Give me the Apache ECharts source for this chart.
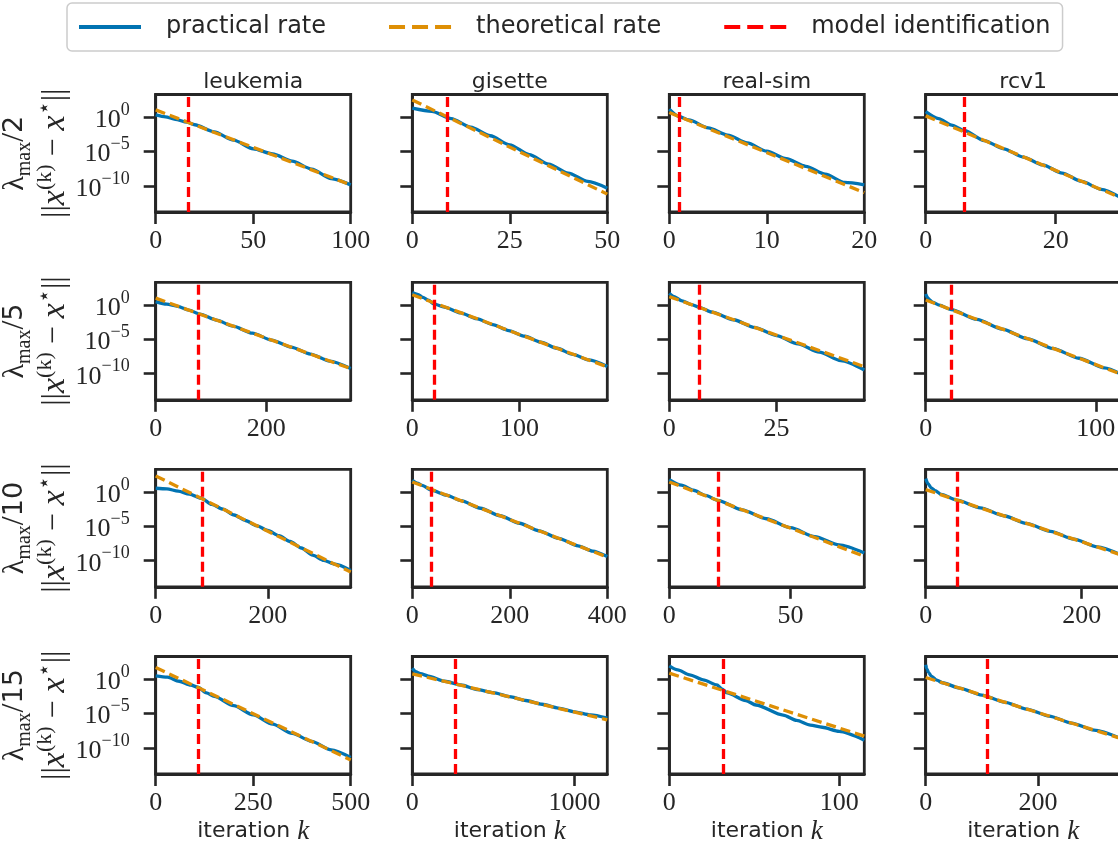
<!DOCTYPE html>
<html><head><meta charset="utf-8">
<script src="https://cdn.jsdelivr.net/npm/echarts@6/dist/echarts.min.js"></script>
<style>html,body{margin:0;padding:0;overflow:hidden;background:#fff}#c{width:1122px;height:847px}</style>
</head><body><div id="c"></div><script>
// ---------------- DATA (y values are log10 of ||x^(k) - x*||) ----------------
const datasets = ['leukemia', 'gisette', 'real-sim', 'rcv1'];
const lambdaDivisors = ['2', '5', '10', '15'];
const yTickExponents = [0, -5, -10];
const yMinExp = -13.8, yMaxExp = 3.3;

// lambda_max / 2
const iters_2 = [100, 50, 20, 30];
const modelId_2 = [16.5, 9, 1, 6];
const xTicks_2 = [[0, 50, 100], [0, 25, 50], [0, 10, 20], [0, 20]];
const prac_leukemia_2 = [[0,0.33],[5,0.05],[10,-0.3],[16,-0.73],[20,-1.1],[30,-2.15],[40,-3.35],[50,-4.6],[60,-5.35],[70,-6.4],[80,-7.55],[90,-8.95],[100,-9.85]];
const theo_leukemia_2 = [[0,1.06],[100,-9.85]];
const prac_gisette_2 = [[0,1.31],[5,0.85],[10,-0.2],[15,-1.45],[20,-2.7],[25,-4.03],[30,-5.45],[35,-6.85],[40,-8.15],[45,-9.35],[50,-10.33]];
const theo_gisette_2 = [[0,2.5],[50,-11.2]];
const prac_realsim_2 = [[0,1.16],[1,0.1],[2,-0.4],[4,-1.55],[6,-2.6],[8,-3.75],[10,-4.95],[12,-6.05],[14,-7.15],[16,-8.3],[18,-9.5],[20,-9.85]];
const theo_realsim_2 = [[0,0.67],[20,-10.98]];
const prac_rcv1_2 = [[0,0.82],[2,-0.2],[4,-1.15],[6,-1.95],[9,-3.4],[12,-4.6],[15,-5.8],[18,-6.95],[21,-8.15],[24,-9.35],[27,-10.5],[30,-11.7]];
const theo_rcv1_2 = [[0,0.19],[30,-11.72]];

// lambda_max / 5
const iters_5 = [353, 182, 45.5, 114.6];
const modelId_5 = [76.6, 20.5, 7, 15];
const xTicks_5 = [[0, 200], [0, 100], [0, 25], [0, 100]];
const prac_leukemia_5 = [[0,0.49],[20,0.12],[40,-0.2],[60,-0.75],[80,-1.33],[110,-2.2],[140,-3.08],[175,-4.1],[210,-5.11],[245,-6.13],[280,-7.14],[315,-8.16],[353,-9.26]];
const theo_leukemia_5 = [[0,0.99],[353,-9.26]];
const prac_gisette_5 = [[0,1.82],[5,1.55],[10,1.1],[15,0.7],[20,0.15],[30,-0.3],[45,-1.15],[60,-2.0],[75,-2.85],[90,-3.72],[105,-4.55],[120,-5.4],[135,-6.3],[150,-7.2],[165,-8.0],[182,-8.95]];
const theo_gisette_5 = [[0,1.48],[182,-9.01]];
const prac_realsim_5 = [[0,1.7],[1,1.25],[3,0.6],[5,0.1],[7,-0.35],[10,-1.05],[15,-2.15],[20,-3.3],[25,-4.45],[30,-5.65],[35,-6.85],[40,-8.1],[45.5,-9.47]];
const theo_realsim_5 = [[0,1.21],[45.5,-8.98]];
const prac_rcv1_5 = [[0,1.6],[1,1.1],[2,0.8],[4,0.4],[8,-0.02],[15,-0.68],[30,-2.1],[45,-3.51],[60,-4.92],[75,-6.34],[90,-7.75],[105,-9.16],[114.6,-10.05]];
const theo_rcv1_5 = [[0,0.73],[114.6,-10.05]];

// lambda_max / 10
const iters_10 = [348, 400, 80.4, 250];
const modelId_10 = [82.4, 39.5, 20, 40];
const xTicks_10 = [[0, 200], [0, 200, 400], [0, 50], [0, 200]];
const prac_leukemia_10 = [[0,0.54],[20,0.45],[40,0.12],[60,-0.3],[82,-0.93],[100,-1.8],[120,-2.5],[140,-3.35],[160,-4.15],[180,-4.9],[200,-5.6],[220,-6.35],[240,-7.2],[260,-8.15],[280,-9.2],[300,-9.95],[320,-10.5],[348,-11.41]];
const theo_leukemia_10 = [[0,2.34],[348,-11.66]];
const prac_gisette_10 = [[0,1.7],[10,1.3],[20,0.95],[40,0.25],[70,-0.45],[100,-1.27],[140,-2.37],[180,-3.46],[220,-4.55],[260,-5.65],[300,-6.74],[340,-7.83],[370,-8.6],[400,-9.4]];
const theo_gisette_10 = [[0,1.46],[400,-9.47]];
const prac_realsim_10 = [[0,1.8],[5,1.0],[10,0.25],[15,-0.5],[20,-1.21],[30,-2.6],[40,-3.9],[50,-5.2],[60,-6.5],[70,-7.7],[80.4,-8.88]];
const theo_realsim_10 = [[0,1.46],[80.4,-9.37]];
const prac_rcv1_10 = [[0,1.94],[3,1.2],[7,0.6],[12,0.2],[20,-0.35],[40,-1.18],[70,-2.32],[100,-3.46],[130,-4.6],[160,-5.73],[190,-6.87],[220,-8.0],[250,-9.14]];
const theo_rcv1_10 = [[0,0.34],[250,-9.14]];

// lambda_max / 15
const iters_15 = [500, 1203, 114.8, 347.5];
const modelId_15 = [108, 263, 31.8, 110];
const xTicks_15 = [[0, 250, 500], [0, 1000], [0, 100], [0, 200]];
const prac_leukemia_15 = [[0,0.49],[30,0.3],[60,-0.3],[90,-0.85],[108,-1.17],[130,-2.0],[150,-2.5],[200,-3.85],[250,-5.2],[300,-6.55],[350,-7.9],[400,-9.05],[450,-10.3],[500,-11.41]];
const theo_leukemia_15 = [[0,1.7],[500,-11.75]];
const prac_gisette_15 = [[0,1.6],[20,1.1],[50,0.8],[100,0.45],[200,-0.3],[300,-0.85],[400,-1.5],[500,-1.95],[600,-2.55],[700,-3.1],[800,-3.65],[900,-4.2],[1000,-4.75],[1100,-5.2],[1203,-5.68]];
const theo_gisette_15 = [[0,0.78],[1203,-5.92]];
const prac_realsim_15 = [[0,1.95],[5,1.35],[12,0.63],[20,-0.1],[28,-0.83],[31,-1.4],[34,-2.0],[45,-3.1],[51,-3.76],[67,-5.22],[75,-6.0],[83,-6.68],[90,-7.0],[100,-7.6],[114.8,-8.88]];
const theo_realsim_15 = [[0,0.88],[114.8,-8.29]];
const prac_rcv1_15 = [[0,2.1],[2,1.5],[5,1.0],[10,0.45],[20,-0.15],[30,-0.52],[60,-1.29],[100,-2.31],[140,-3.33],[180,-4.35],[220,-5.37],[260,-6.39],[300,-7.41],[347.5,-8.62]];
const theo_rcv1_15 = [[0,0.24],[347.5,-8.62]];

// ---------------- assemble ----------------
const rowsData = [
  {iters: iters_2, id: modelId_2, ticks: xTicks_2, prac: [prac_leukemia_2, prac_gisette_2, prac_realsim_2, prac_rcv1_2], theo: [theo_leukemia_2, theo_gisette_2, theo_realsim_2, theo_rcv1_2]},
  {iters: iters_5, id: modelId_5, ticks: xTicks_5, prac: [prac_leukemia_5, prac_gisette_5, prac_realsim_5, prac_rcv1_5], theo: [theo_leukemia_5, theo_gisette_5, theo_realsim_5, theo_rcv1_5]},
  {iters: iters_10, id: modelId_10, ticks: xTicks_10, prac: [prac_leukemia_10, prac_gisette_10, prac_realsim_10, prac_rcv1_10], theo: [theo_leukemia_10, theo_gisette_10, theo_realsim_10, theo_rcv1_10]},
  {iters: iters_15, id: modelId_15, ticks: xTicks_15, prac: [prac_leukemia_15, prac_gisette_15, prac_realsim_15, prac_rcv1_15], theo: [theo_leukemia_15, theo_gisette_15, theo_realsim_15, theo_rcv1_15]}
];

const INK = '#262626';
const BLUE = '#0173b2', ORANGE = '#de8f05', RED = '#ff0000';
const SERIF = 'Liberation Serif', SANS = 'DejaVu Sans';
const colLeft = [155.7, 412.3, 669.3, 925.7], colW = 195;
const rowTop = [94.5, 282.3, 469.3, 656.5], rowH = 117.5;
const LW = 3.3, FRAME = 2.8;

const grids = [], xAxes = [], yAxes = [], series = [], graphics = [];
const tickStyle = {show: true, inside: false, length: 12, lineStyle: {color: INK, width: 2.6}};

rowsData.forEach((row, r) => {
  datasets.forEach((ds, c) => {
    const i = grids.length;
    grids.push({left: colLeft[c], top: rowTop[r], width: colW, height: rowH, show: true,
      borderColor: INK, borderWidth: FRAME, backgroundColor: 'rgba(0,0,0,0)', outerBoundsMode: 'none', containLabel: false});
    const xa = {gridIndex: i, type: 'value', min: 0, max: row.iters[c], position: 'bottom',
      axisLine: {show: true, onZero: false, lineStyle: {color: INK, width: FRAME}}, splitLine: {show: false},
      axisTick: Object.assign({customValues: row.ticks[c]}, tickStyle),
      axisLabel: {show: true, customValues: row.ticks[c], margin: 16, fontFamily: SERIF, fontSize: 26, color: INK, formatter: v => String(v)}};
    if (r === 3) {
      xa.name = '{a|iteration }{k|k}';
      xa.nameLocation = 'middle';
      xa.nameGap = 44;
      xa.nameTextStyle = {rich: {a: {fontFamily: SANS, fontSize: 22, color: INK}, k: {fontFamily: SERIF, fontStyle: 'italic', fontSize: 27, color: INK}}};
    }
    xAxes.push(xa);
    const ya = {gridIndex: i, type: 'value', min: yMinExp, max: yMaxExp, position: 'left',
      axisLine: {show: true, onZero: false, lineStyle: {color: INK, width: FRAME}}, splitLine: {show: false},
      axisTick: Object.assign({customValues: yTickExponents}, tickStyle),
      axisLabel: {show: c === 0, customValues: yTickExponents, margin: 26, color: INK,
        formatter: v => '{b|10}{s|' + (v === 0 ? '0' : '\u2212' + Math.abs(v)) + '}',
        rich: {b: {fontFamily: SERIF, fontSize: 26, lineHeight: 32, verticalAlign: 'bottom', color: INK},
               s: {fontFamily: SERIF, fontSize: 18, lineHeight: 18, verticalAlign: 'top', color: INK}}}};
    if (c === 0) {
      ya.name = '{l|\u03bb}{sub|max}{n|/}{d|' + lambdaDivisors[r] + '}\n{n|||}{it|x}{sup|(k)}{n| \u2212 }{it|x}{sup|\u22c6}{n|||}';
      ya.nameLocation = 'middle';
      ya.nameRotate = 90;
      ya.nameGap = 72;
      ya.nameTextStyle = {color: INK, align: 'center', rich: {
        l: {fontFamily: SERIF, fontSize: 30, lineHeight: 40, verticalAlign: 'middle', color: INK},
        n: {fontFamily: SERIF, fontSize: 32, lineHeight: 40, verticalAlign: 'middle', color: INK},
        d: {fontFamily: SANS, fontSize: 27, lineHeight: 40, verticalAlign: 'middle', color: INK},
        it: {fontFamily: SERIF, fontStyle: 'italic', fontSize: 34, lineHeight: 40, verticalAlign: 'middle', color: INK},
        sub: {fontFamily: SERIF, fontSize: 20, lineHeight: 24, verticalAlign: 'bottom', color: INK},
        sup: {fontFamily: SERIF, fontSize: 22, lineHeight: 26, verticalAlign: 'top', color: INK}}};
    }
    yAxes.push(ya);

    series.push({name: 'practical rate', type: 'line', xAxisIndex: i, yAxisIndex: i, data: row.prac[c],
      symbol: 'none', showSymbol: false, smooth: 0.25, smoothMonotone: 'x', z: 2,
      lineStyle: {color: BLUE, width: LW}, itemStyle: {color: BLUE}});
    series.push({name: 'theoretical rate', type: 'line', xAxisIndex: i, yAxisIndex: i, data: row.theo[c],
      symbol: 'none', showSymbol: false, z: 3,
      lineStyle: {color: ORANGE, width: LW, type: [10, 5]}, itemStyle: {color: ORANGE}});
    series.push({name: 'model identification', type: 'line', xAxisIndex: i, yAxisIndex: i, data: [],
      symbol: 'none', z: 4, lineStyle: {color: RED, width: LW, type: [10, 5]}, itemStyle: {color: RED},
      markLine: {silent: true, symbol: ['none', 'none'], label: {show: false}, animation: false,
        lineStyle: {color: RED, width: LW, type: [10, 5]}, emphasis: {disabled: true},
        data: [{xAxis: row.id[c]}]}});

    if (r === 0) {
      graphics.push({type: 'text', x: colLeft[c] + colW / 2, y: rowTop[0] - 1,
        style: {text: ds, font: '22px "DejaVu Sans"', fill: INK, textAlign: 'center', textVerticalAlign: 'bottom', align: 'center', verticalAlign: 'bottom'}});
    }
  });
});

const solidIcon = 'path://M0,0h62v4h-62z';
const dashIcon = 'path://M0,0h16v4h-16z M23,0h16v4h-16z M46,0h16v4h-16z';

const chart = echarts.init(document.getElementById('c'), null, {renderer: 'canvas'});
chart.setOption({
  animation: false,
  backgroundColor: '#ffffff',
  legend: {top: 3, left: 67, padding: [12, 12, 12, 12], itemWidth: 62, itemHeight: 4, itemGap: 63,
    borderColor: '#cccccc', borderWidth: 1.5, borderRadius: 5,
    itemStyle: {borderWidth: 0},
    textStyle: {fontFamily: SANS, fontSize: 24, color: INK, padding: [0, 0, 0, 20]},
    data: [{name: 'practical rate', icon: solidIcon},
           {name: 'theoretical rate', icon: dashIcon},
           {name: 'model identification', icon: dashIcon}]},
  grid: grids, xAxis: xAxes, yAxis: yAxes, series: series, graphic: graphics
});
</script></body></html>
